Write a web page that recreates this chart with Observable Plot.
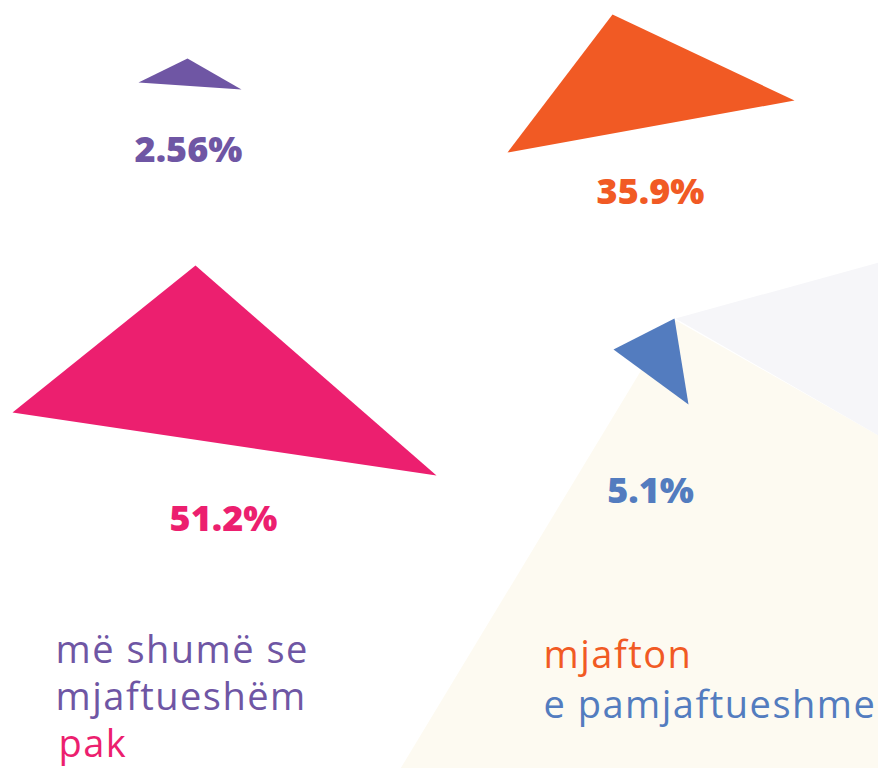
<!DOCTYPE html>
<html><head><meta charset="utf-8">
<script src="https://cdn.jsdelivr.net/npm/d3@7"></script>
<script src="https://cdn.jsdelivr.net/npm/@observablehq/plot@0.6"></script>
<style>html,body{margin:0;padding:0;background:#fff;overflow:hidden}</style>
</head><body><div id="chart"></div>
<script>
// categories and their values
const categories = ["më shumë se mjaftueshëm", "mjafton", "pak", "e pamjaftueshme"];
const values = [2.56, 35.9, 51.2, 5.1];
const colors = ["#6f56a4", "#f15a24", "#ec1f6f", "#537cbf"];

// triangle vertices per category (frame units)
const triX = [[138, 187, 241], [507, 612, 794], [12, 195, 436], [613, 674, 688]];
const triY = [[82, 58, 89], [152, 14, 100], [412, 265, 475], [349, 318, 404]];

// percentage label anchors per category
const labelX = [188, 650, 223, 650];
const labelY = [161, 203, 530, 502];

// legend lines: text, category index, anchor
const legendText = ["më shumë se", "mjaftueshëm", "pak", "mjafton", "e pamjaftueshme"];
const legendCat = [0, 0, 2, 1, 3];
const legendX = [55, 55, 58, 543, 543];
const legendY = [662, 709, 756, 667, 717];

// decorative background polygons
const bgNames = ["cream", "grey"];
const bgColors = ["#fdfaf1", "#f6f6f9"];
const bgX = [[400, 672, 878, 878], [675, 878, 878]];
const bgY = [[768, 318, 435, 768], [318, 262, 435]];

const bgRows = bgNames.flatMap((n, k) => bgX[k].map((x, i) => ({bg: n, x, y: bgY[k][i]})));
const triRows = categories.flatMap((c, k) => triX[k].map((x, i) => ({cat: c, x, y: triY[k][i]})));
const labels = categories.map((c, k) => ({cat: c, value: values[k], x: labelX[k], y: labelY[k]}));
const legend = legendText.map((t, k) => ({text: t, cat: categories[legendCat[k]], x: legendX[k], y: legendY[k]}));

const chart = Plot.plot({
  width: 878,
  height: 768,
  margin: 0,
  style: {fontFamily: "'Open Sans', sans-serif", background: "#ffffff"},
  x: {domain: [0, 878], range: [0, 878], axis: null},
  y: {domain: [0, 768], range: [0, 768], axis: null},
  color: {domain: categories, range: colors},
  marks: [
    Plot.line(bgRows, {x: "x", y: "y", z: "bg", curve: "linear-closed", stroke: null,
      fill: d => bgColors[bgNames.indexOf(d.bg)]}),
    Plot.line(triRows, {x: "x", y: "y", z: "cat", fill: "cat", stroke: null, curve: "linear-closed"}),
    Plot.text(labels, {x: "x", y: "y", text: d => `${d.value}%`, fill: "cat",
      textAnchor: "middle", lineAnchor: "bottom", fontSize: 36, fontWeight: 800}),
    Plot.text(legend, {x: "x", y: "y", text: "text", fill: "cat",
      textAnchor: "start", lineAnchor: "bottom", fontSize: 38, fontWeight: 400})
  ]
});
const textGroups = chart.querySelectorAll('g[aria-label="text"]');
d3.select(textGroups[textGroups.length - 1]).selectAll("text").style("letter-spacing", "1.5px");
document.getElementById("chart").append(chart);
</script>
</body></html>
